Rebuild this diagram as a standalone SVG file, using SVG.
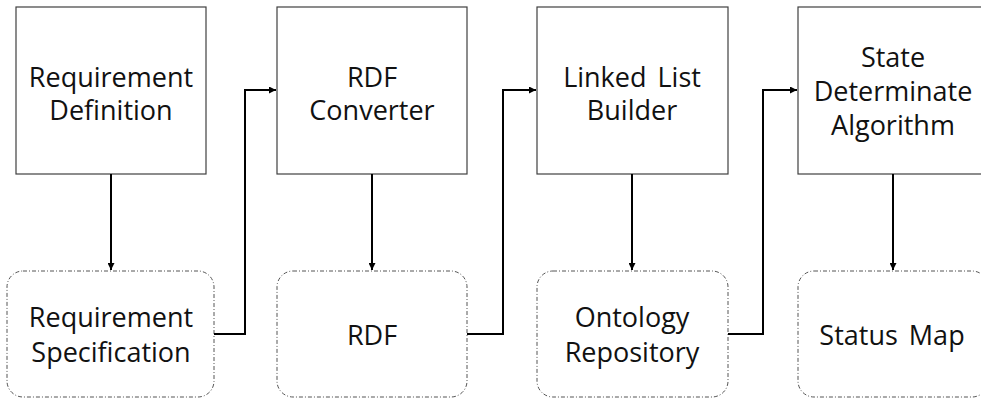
<svg xmlns="http://www.w3.org/2000/svg" width="981" height="401" viewBox="0 0 981 401">
<style>
.box{fill:#fff;stroke:#404040;stroke-width:1.2}
.store{fill:#fff;stroke:#555;stroke-width:1;stroke-dasharray:4 2 1 2}
.t{font-family:"Open Sans","Noto Sans",sans-serif;font-size:27px;fill:#111;text-anchor:middle;word-spacing:4px}
.c{fill:none;stroke:#000;stroke-width:2}
</style>
<defs>
<marker id="ah" viewBox="0 0 10 10" refX="10" refY="5" markerWidth="7" markerHeight="7" markerUnits="userSpaceOnUse" orient="auto">
<path d="M0,0 L10,5 L0,10 Z" fill="#000"/>
</marker>
</defs>
<rect width="981" height="401" fill="#fff"/>
<g id="n-reqdef">
<rect class="box" x="16" y="7" width="190" height="167"/>
<text class="t" x="111" y="87">Requirement</text>
<text class="t" x="111" y="120">Definition</text>
</g>
<g id="n-rdfconv">
<rect class="box" x="277" y="7" width="190" height="167"/>
<text class="t" x="372" y="87">RDF</text>
<text class="t" x="372" y="120">Converter</text>
</g>
<g id="n-llb">
<rect class="box" x="537" y="7" width="191" height="167"/>
<text class="t" x="632" y="87">Linked List</text>
<text class="t" x="632" y="120">Builder</text>
</g>
<g id="n-sda">
<rect class="box" x="798" y="7" width="190" height="167"/>
<text class="t" x="893" y="67">State</text>
<text class="t" x="893" y="101">Determinate</text>
<text class="t" x="893" y="135">Algorithm</text>
</g>
<g id="n-reqspec">
<rect class="store" x="7" y="271" width="207" height="126" rx="16"/>
<text class="t" x="111" y="327">Requirement</text>
<text class="t" x="111" y="362">Specification</text>
</g>
<g id="n-rdf">
<rect class="store" x="277" y="271" width="190" height="126" rx="16"/>
<text class="t" x="372" y="345">RDF</text>
</g>
<g id="n-onto">
<rect class="store" x="537" y="271" width="191" height="126" rx="16"/>
<text class="t" x="632" y="327">Ontology</text>
<text class="t" x="632" y="362">Repository</text>
</g>
<g id="n-status">
<rect class="store" x="798" y="271" width="190" height="126" rx="16"/>
<text class="t" x="892" y="345">Status Map</text>
</g>
<g id="connectors">
<path class="c" d="M111,174 V270" marker-end="url(#ah)"/>
<path class="c" d="M372,174 V270" marker-end="url(#ah)"/>
<path class="c" d="M632,174 V270" marker-end="url(#ah)"/>
<path class="c" d="M893,174 V270" marker-end="url(#ah)"/>
<path class="c" d="M214,334 H245 V90 H276" marker-end="url(#ah)"/>
<path class="c" d="M467,334 H503 V90 H536" marker-end="url(#ah)"/>
<path class="c" d="M728,334 H763 V90 H797" marker-end="url(#ah)"/>
</g>
</svg>
